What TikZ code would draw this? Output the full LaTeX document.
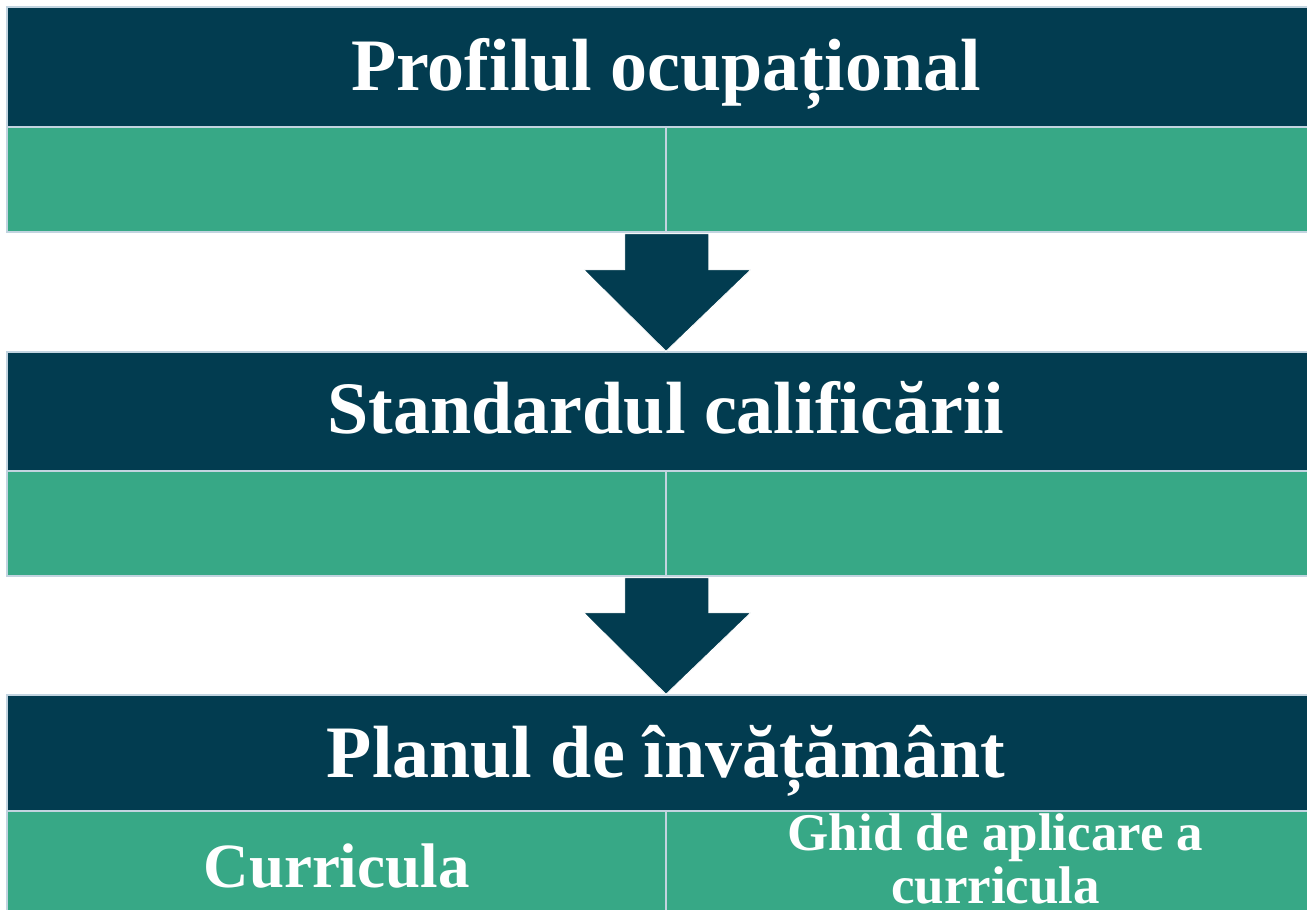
\documentclass[tikz,border=0pt]{standalone}
\usepackage{fontspec}
\setmainfont{Liberation Serif}
\definecolor{darkteal}{HTML}{023C50}
\definecolor{teal}{HTML}{37A886}
\definecolor{edgec}{HTML}{C2D4E0}
\begin{document}
\begin{tikzpicture}[x=1pt,y=-1pt,
  darkbox/.style={draw=edgec,line width=1.5pt,fill=darkteal,rectangle,inner sep=0pt,minimum width=1318pt},
  cellbox/.style={draw=edgec,line width=1.5pt,fill=teal,rectangle,inner sep=0pt,minimum width=659pt,minimum height=105pt},
  titletext/.style={text=white,font=\fontsize{74}{74}\selectfont\bfseries,anchor=base,inner sep=0pt},
  celltext/.style={text=white,anchor=base,inner sep=0pt},
  bigarrow/.style={fill=darkteal,draw=white,line width=0.8pt,line join=miter}]
\useasboundingbox (0,0) rectangle (1307,910);
\begin{scope}
\clip (0,0) rectangle (1307,910);
% level 1
\node[darkbox,minimum height=120pt] (b1) at (666,67) {};
\node[cellbox] (c1l) at (336.5,179.5) {};
\node[cellbox] (c1r) at (995.5,179.5) {};
% level 2
\node[darkbox,minimum height=119pt] (b2) at (666,411.5) {};
\node[cellbox] (c2l) at (336.5,523.5) {};
\node[cellbox] (c2r) at (995.5,523.5) {};
% level 3
\node[darkbox,minimum height=116pt] (b3) at (666,753) {};
\node[cellbox] (c3l) at (336.5,863.5) {};
\node[cellbox] (c3r) at (995.5,863.5) {};
% titles
\node[titletext] (t1) at (666,90) {Profilul ocupațional};
\node[titletext] (t2) at (666,433) {Standardul calificării};
\node[titletext] (t3) at (666,777) {Planul de învățământ};
\node[celltext,font=\fontsize{63}{63}\selectfont\bfseries] (t3l) at (336.5,887) {Curricula};
\node[celltext,align=center,font=\fontsize{53}{53}\selectfont\bfseries] (t3r) at (995.5,903) {Ghid de aplicare a\\curricula};
% arrows
\draw[bigarrow] ([xshift=-42pt,yshift=-1pt]c1l.south east) -- ([xshift=42pt,yshift=-1pt]c1l.south east)
  -- ([xshift=42pt,yshift=-37pt]c1l.south east) -- ([xshift=84pt,yshift=-37pt]c1l.south east)
  -- (b2.north) -- ([xshift=-83pt,yshift=-37pt]c1l.south east)
  -- ([xshift=-42pt,yshift=-37pt]c1l.south east) -- cycle;
\draw[bigarrow] ([xshift=-42pt,yshift=-1pt]c2l.south east) -- ([xshift=42pt,yshift=-1pt]c2l.south east)
  -- ([xshift=42pt,yshift=-36pt]c2l.south east) -- ([xshift=84pt,yshift=-36pt]c2l.south east)
  -- (b3.north) -- ([xshift=-83pt,yshift=-36pt]c2l.south east)
  -- ([xshift=-42pt,yshift=-36pt]c2l.south east) -- cycle;
\end{scope}
\end{tikzpicture}
\end{document}
